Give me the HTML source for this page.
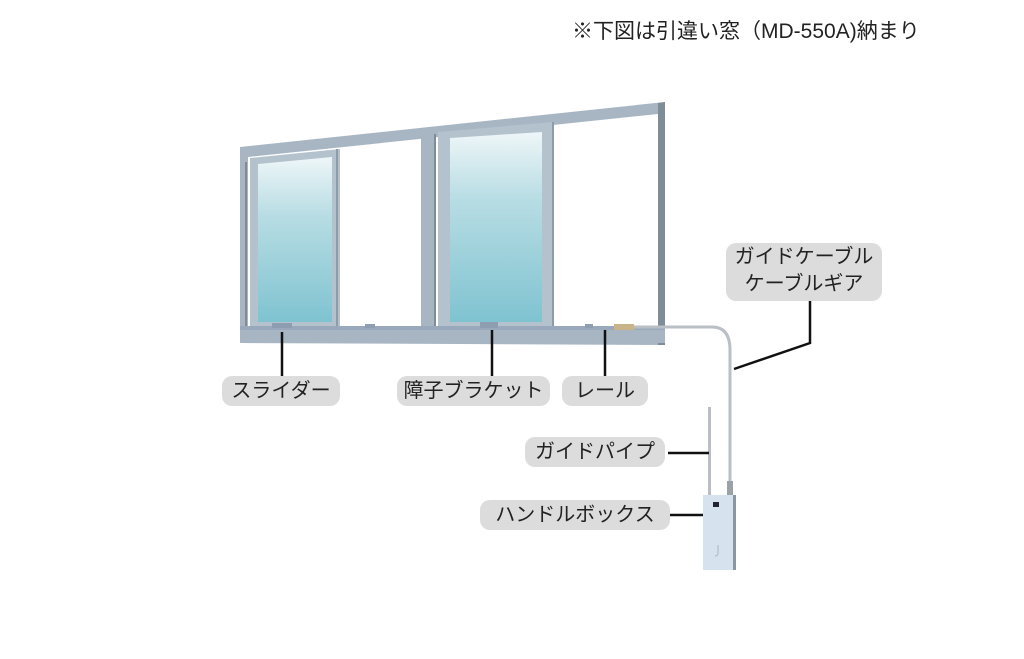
<!DOCTYPE html>
<html><head><meta charset="utf-8"><style>
body{margin:0;background:#fff;width:1024px;height:659px;overflow:hidden;font-family:"Liberation Sans","Noto Sans CJK JP",sans-serif}
.t{position:absolute;left:572px;top:15px;font-size:21px;color:#222;white-space:nowrap}
.p{position:absolute;background:#dcdcdc;border-radius:10px;font-size:20px;color:#222;text-align:center;line-height:30px;white-space:nowrap}
</style></head><body>
<svg width="1024" height="659" style="position:absolute;left:0;top:0">
<defs>
<linearGradient id="g" x1="0" y1="0" x2="0" y2="1"><stop offset="0" stop-color="#eef6f8"/><stop offset="0.35" stop-color="#b8dde4"/><stop offset="1" stop-color="#7fc3d0"/></linearGradient>
</defs>
<polygon points="240,147 665,102 665,345 240,343" fill="#a8b6c3"/>
<polygon points="658,103 665,102 665,345 658,345" fill="#7f8d99"/>
<polygon points="248,157 658,114 658,326 248,326" fill="#fff"/>
<polygon points="421,132 436,130 436,326 421,326" fill="#a8b6c3"/>
<polygon points="250,158 340,149 340,326 250,326" fill="#b4c2ce"/>
<polygon points="258,164 332,157 332,322 258,322" fill="url(#g)"/>
<line x1="337" y1="149" x2="337" y2="326" stroke="#8e9caa" stroke-width="2"/>
<polygon points="438,132 553,122 553,326 438,326" fill="#b4c2ce"/>
<polygon points="450,138 542,132 542,322 450,322" fill="url(#g)"/>
<line x1="553" y1="122" x2="553" y2="326" stroke="#8e9caa" stroke-width="2"/>
<line x1="246" y1="162" x2="246" y2="326" stroke="#7f8d99" stroke-width="2"/>
<line x1="435" y1="134" x2="435" y2="326" stroke="#7f8d99" stroke-width="2"/>
<rect x="240" y="326" width="425" height="4" fill="#9aa8bc"/>
<rect x="240" y="330" width="425" height="13" fill="#a8b6c3"/>
<rect x="272" y="323" width="20" height="5" fill="#8f9db0"/>
<rect x="480" y="322" width="18" height="6" fill="#8f9db0"/>
<rect x="365" y="324" width="10" height="4" fill="#8f9db0"/>
<rect x="585" y="324" width="8" height="4" fill="#8f9db0"/>
<rect x="614" y="324" width="20" height="6" fill="#c9b48a"/>
<path d="M634,327 H712 Q730,327 730,350 V487" fill="none" stroke="#b9bfc5" stroke-width="3"/>
<rect x="727" y="481" width="6" height="14" fill="#9aa2a8"/>
<rect x="708" y="407" width="3" height="90" fill="#b9bfc5"/>
<rect x="703" y="495" width="32" height="75" fill="#d6e3ee"/>
<rect x="733" y="495" width="3" height="75" fill="#8a96a2"/>
<rect x="713" y="502" width="6" height="5" fill="#223"/>
<path d="M718,545 v8 q0,3 -3,3" stroke="#aab6c2" fill="none"/>
<g stroke="#111" stroke-width="2.5" fill="none">
<line x1="282" y1="332" x2="282" y2="376"/>
<line x1="492" y1="330" x2="492" y2="376"/>
<line x1="605" y1="330" x2="605" y2="376"/>
<polyline points="734,369 810,343 810,300"/>
<line x1="668" y1="453" x2="709" y2="453"/>
<line x1="670" y1="515" x2="703" y2="515"/>
</g>
</svg>
<div class="t">※下図は引違い窓（MD-550A)納まり</div>
<div class="p" style="left:222px;top:376px;width:118px">スライダー</div>
<div class="p" style="left:397px;top:376px;width:153px">障子ブラケット</div>
<div class="p" style="left:562px;top:376px;width:86px">レール</div>
<div class="p" style="left:726px;top:243px;width:156px;height:57px;line-height:27px;padding-top:1px">ガイドケーブル<br>ケーブルギア</div>
<div class="p" style="left:525px;top:437px;width:140px">ガイドパイプ</div>
<div class="p" style="left:480px;top:500px;width:190px">ハンドルボックス</div>
</body></html>
